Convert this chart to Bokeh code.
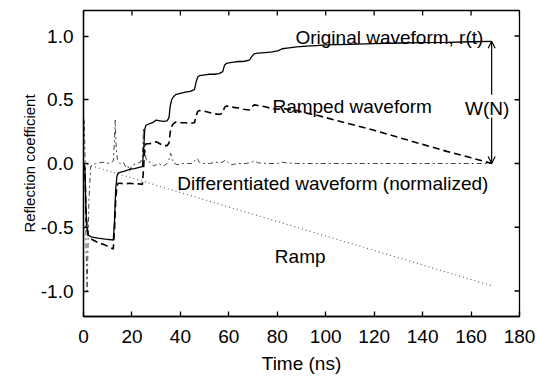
import math
from bokeh.plotting import figure
from bokeh.models import Range1d, FixedTicker, Label, Arrow, OpenHead
from bokeh.embed import file_html
from bokeh.resources import INLINE

# ---------------- data ----------------
t_orig = [0, 0.6, 1.0, 1.4, 2.0, 3.0, 6, 9, 12.3, 12.8, 13.3, 13.8, 14.3, 15, 17, 19, 21, 23,
          24.3, 24.8, 25.3, 25.8, 27, 28.5, 30, 31.5, 33, 34.5, 35.3, 35.8, 36.4, 37, 38, 40,
          42, 44, 45.8, 46.5, 47.2, 48, 50, 52, 54, 56, 57.5, 58.2, 59, 60, 62, 64, 66, 68.5,
          69.5, 70.5, 72, 75, 78, 80.5, 82, 84, 88, 92, 96, 100, 110, 120, 130, 140, 150, 160,
          168.5]
original = [0, -0.05, -0.35, -0.5, -0.56, -0.575, -0.585, -0.593, -0.60, -0.45, -0.2, -0.1,
            -0.075, -0.07, -0.06, -0.045, -0.04, -0.03, -0.025, 0.1, 0.27, 0.3, 0.31, 0.32,
            0.34, 0.335, 0.33, 0.335, 0.36, 0.45, 0.5, 0.52, 0.54, 0.55, 0.56, 0.565, 0.58,
            0.64, 0.68, 0.69, 0.695, 0.7, 0.7, 0.705, 0.72, 0.77, 0.785, 0.79, 0.795, 0.8,
            0.8, 0.81, 0.84, 0.86, 0.865, 0.87, 0.875, 0.885, 0.9, 0.905, 0.915, 0.92, 0.925,
            0.93, 0.935, 0.94, 0.945, 0.948, 0.95, 0.955, 0.958]
ramped = [0, -0.05, -0.36, -0.51, -0.57, -0.59, -0.62, -0.64, -0.67, -0.52, -0.28, -0.18,
          -0.155, -0.155, -0.16, -0.155, -0.16, -0.16, -0.165, -0.04, 0.125, 0.155, 0.155,
          0.16, 0.17, 0.155, 0.14, 0.14, 0.16, 0.245, 0.29, 0.31, 0.325, 0.32, 0.32, 0.315,
          0.32, 0.375, 0.41, 0.415, 0.41, 0.4, 0.39, 0.385, 0.395, 0.44, 0.45, 0.45, 0.44,
          0.435, 0.425, 0.42, 0.445, 0.46, 0.455, 0.445, 0.43, 0.425, 0.435, 0.425, 0.415,
          0.395, 0.38, 0.36, 0.31, 0.26, 0.205, 0.15, 0.095, 0.045, 0.0]

t_diff = [0, 0.3, 0.6, 1.0, 1.5, 2.2, 3, 5, 8, 11, 12.3, 12.7, 13.1, 13.5, 14, 15, 16.5, 17.5,
          18.3, 19, 19.8, 20.5, 22, 23.5, 24.3, 24.8, 25.3, 26, 27.5, 29, 31, 33, 34.5, 35.5,
          36, 36.6, 37.5, 39, 41, 43, 45, 46.3, 47, 47.8, 49, 52, 55, 57.5, 58.5, 59.5, 61,
          64, 67, 69.5, 70.5, 72, 76, 80, 82, 84, 88, 95, 100, 110, 120, 130, 140, 150, 160,
          168.5]
differentiated = [0, 0.35, 0.1, -0.6, -1.0, -0.3, -0.02, 0.0, 0.01, 0.0, 0.02, 0.15, 0.34,
                  0.12, 0.03, 0.0, 0.01, -0.03, -0.02, -0.06, -0.02, -0.01, 0.0, 0.01, 0.05,
                  0.28, 0.1, 0.02, 0.01, -0.02, 0.0, -0.02, 0.0, 0.04, 0.08, 0.03, 0.0, -0.01,
                  0.0, 0.0, 0.0, 0.03, 0.04, 0.01, 0.0, 0.0, 0.01, 0.01, 0.03, 0.01, -0.01,
                  0.0, 0.0, 0.01, 0.02, 0.005, 0.0, 0.0, 0.01, 0.005, 0.0, 0.0, 0.0, 0.0, 0.0,
                  0.0, 0.0, 0.0, 0.0, 0.0]

t_ramp = [0, 168.5]
ramp = [0, -0.958]

x_ticks = [0, 20, 40, 60, 80, 100, 120, 140, 160, 180]
y_ticks = [-1.0, -0.5, 0.0, 0.5, 1.0]
y_tick_labels = ["-1.0", "-0.5", "0.0", "0.5", "1.0"]
x_lim = (0, 180)
y_lim = (-1.2, 1.2)

FONT = "Liberation Sans"

# ---------------- figure ----------------
p = figure(width=537, height=379, x_range=Range1d(*x_lim), y_range=Range1d(*y_lim),
           output_backend="svg", toolbar_location=None,
           min_border_left=83, min_border_right=18, min_border_top=10, min_border_bottom=63)
p.grid.visible = False
p.outline_line_color = "black"
p.outline_line_width = 1.3
p.background_fill_color = "white"
p.border_fill_color = "white"


def style_axis(ax, ticks):
    ax.ticker = FixedTicker(ticks=ticks)
    ax.major_tick_in = 5
    ax.major_tick_out = 0
    ax.minor_tick_line_color = None
    ax.major_tick_line_width = 1.3
    ax.major_tick_line_color = "black"
    ax.axis_line_color = "black"
    ax.axis_line_width = 1.3
    ax.major_label_text_font = FONT
    ax.major_label_text_font_size = "19px"
    ax.major_label_text_color = "black"
    ax.axis_label_text_font = FONT
    ax.axis_label_text_font_style = "normal"
    ax.axis_label_text_color = "black"


xa = p.xaxis[0]
style_axis(xa, x_ticks)
xa.major_label_standoff = 13
xa.axis_label = "Time (ns)"
xa.axis_label_text_font_size = "19px"
xa.axis_label_standoff = 7

ya = p.yaxis[0]
style_axis(ya, y_ticks)
ya.major_label_overrides = {v: s for v, s in zip(y_ticks, y_tick_labels)}
ya.major_label_standoff = 10
ya.axis_label = "Reflection coefficient"
ya.axis_label_text_font_size = "15px"
ya.axis_label_standoff = 0

# inward ticks on the top and right edges of the frame (half of each dash is clipped)
p.scatter(x_ticks, [y_lim[1]] * len(x_ticks), marker="dash", size=10, angle=math.pi / 2,
          line_color="black", line_width=1.3)
p.scatter([x_lim[1]] * len(y_ticks), y_ticks, marker="dash", size=10, angle=0,
          line_color="black", line_width=1.3)

# ---------------- curves ----------------
p.line(t_ramp, ramp, line_color="#666666", line_width=1.2, line_dash="1 3")
p.line(t_diff, differentiated, line_color="#444444", line_width=1.0, line_dash="5 3 2 3")
p.line(t_orig, ramped, line_color="black", line_width=1.6, line_dash="7 4")
p.line(t_orig, original, line_color="black", line_width=1.3)

# ---------------- W(N) arrow ----------------
t_end = t_orig[-1]
p.add_layout(Arrow(end=OpenHead(size=7, line_width=1.2, line_color="black"),
                   x_start=t_end, y_start=0.54, x_end=t_end, y_end=original[-1],
                   line_color="black", line_width=1.2))
p.add_layout(Arrow(end=OpenHead(size=7, line_width=1.2, line_color="black"),
                   x_start=t_end, y_start=0.36, x_end=t_end, y_end=ramped[-1],
                   line_color="black", line_width=1.2))

# ---------------- annotations ----------------
def add_label(x, y, text):
    p.add_layout(Label(x=x, y=y, text=text, text_font=FONT, text_font_size="19px",
                       text_color="black", text_align="left", text_baseline="alphabetic"))


add_label(87.5, 0.99, "Original waveform, r(t)")
add_label(78, 0.445, "Ramped waveform")
add_label(157.5, 0.43, "W(N)")
add_label(38.7, -0.153, "Differentiated waveform (normalized)")
add_label(79, -0.733, "Ramp")

open("out.html", "w").write(file_html(p, INLINE))
